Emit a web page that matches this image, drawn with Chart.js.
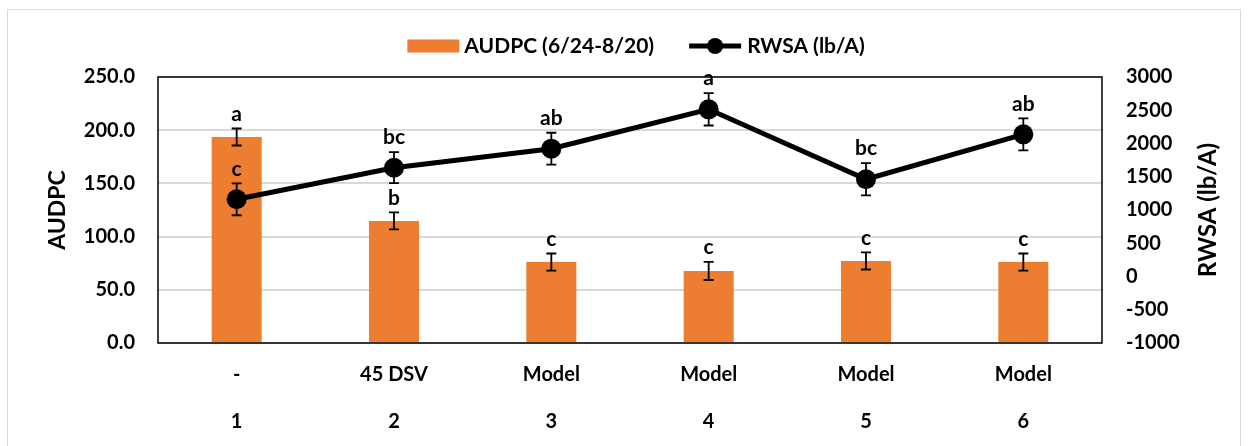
<!DOCTYPE html>
<html>
<head>
<meta charset="utf-8">
<script src="https://cdn.jsdelivr.net/npm/chart.js@4.4.1/dist/chart.umd.min.js"></script>
<style>
    html, body { margin: 0; padding: 0; background: #fff; }
    #wrap { width: 1248px; height: 446px; position: relative; }
</style>
</head>
<body>
<div id="wrap"><canvas id="chart"></canvas></div>
<script>
// treatment names (first label row) and treatment numbers (second row)
const treatments = ['-', '45 DSV', 'Model', 'Model', 'Model', 'Model'];
const trtNumbers = ['1', '2', '3', '4', '5', '6'];

// AUDPC (bars, left axis)
const audpc = [193.6, 114.7, 76.1, 67.7, 77.1, 76.1];
const audpcErr = [8, 8, 8, 8.5, 8, 8];
const audpcLetters = ['a', 'b', 'c', 'c', 'c', 'c'];

// RWSA (line, right axis)
const rwsa = [1161, 1636, 1922, 2514, 1462, 2138];
const rwsaErr = [240, 233, 240, 243, 243, 240];
const rwsaLetters = ['c', 'bc', 'ab', 'a', 'bc', 'ab'];

const FONT = 'Lato, "Open Sans", sans-serif';
const ORANGE = '#ED7D31';

const frameAndExtras = {
    id: 'frameAndExtras',
    beforeDraw(chart) {
        const ctx = chart.ctx;
        ctx.save();
        ctx.fillStyle = '#fff';
        ctx.fillRect(0, 0, chart.width, chart.height);
        ctx.strokeStyle = '#d9d9d9';
        ctx.lineWidth = 1;
        ctx.strokeRect(7.5, 9.5, chart.width - 15, chart.height);
        ctx.restore();
    },
    afterDatasetsDraw(chart) {
        const ctx = chart.ctx;
        const area = chart.chartArea;
        const x = chart.scales.x;
        const yL = chart.scales.y;
        const yR = chart.scales.y1;
        ctx.save();

        // plot-area border
        ctx.strokeStyle = '#000';
        ctx.lineWidth = 1.5;
        ctx.strokeRect(area.left, area.top, area.right - area.left, area.bottom - area.top);

        // error bars
        function errBar(cx, yTop, yBot) {
            ctx.beginPath();
            ctx.moveTo(cx, yTop); ctx.lineTo(cx, yBot);
            ctx.moveTo(cx - 5, yTop); ctx.lineTo(cx + 5, yTop);
            ctx.moveTo(cx - 5, yBot); ctx.lineTo(cx + 5, yBot);
            ctx.stroke();
        }
        ctx.strokeStyle = '#000';
        ctx.lineWidth = 1.8;
        ctx.font = 'bold 21px ' + FONT;
        ctx.fillStyle = '#000';
        ctx.textAlign = 'center';
        ctx.textBaseline = 'bottom';
        audpc.forEach((v, i) => {
            const cx = x.getPixelForValue(i);
            const t = yL.getPixelForValue(v + audpcErr[i]);
            errBar(cx, t, yL.getPixelForValue(v - audpcErr[i]));
            ctx.fillText(audpcLetters[i], cx, t - 4);
        });
        rwsa.forEach((v, i) => {
            const cx = x.getPixelForValue(i);
            const t = yR.getPixelForValue(v + rwsaErr[i]);
            errBar(cx, t, yR.getPixelForValue(v - rwsaErr[i]));
            ctx.fillText(rwsaLetters[i], cx, t - 4);
        });

        // right axis title, reading bottom to top
        ctx.font = 'bold 24px ' + FONT;
        ctx.textBaseline = 'middle';
        ctx.translate(yR.right - 40, (area.top + area.bottom) / 2);
        ctx.rotate(-Math.PI / 2);
        ctx.fillText(chart.data.datasets[1].label, 0, 0);
        ctx.restore();

        // legend
        ctx.save();
        ctx.font = 'bold 21px ' + FONT;
        ctx.textBaseline = 'middle';
        ctx.textAlign = 'left';
        const lab1 = chart.data.datasets[0].label;
        const lab2 = chart.data.datasets[1].label;
        const w1 = ctx.measureText(lab1).width;
        const w2 = ctx.measureText(lab2).width;
        const total = 52 + 5 + w1 + 35 + 52 + 6 + w2;
        let lx = (area.left + area.right) / 2 + 6 - total / 2;
        const ly = 46;
        ctx.fillStyle = ORANGE;
        ctx.fillRect(lx, ly - 6.5, 52, 13);
        lx += 57;
        ctx.fillStyle = '#000';
        ctx.fillText(lab1, lx, ly);
        lx += w1 + 35;
        ctx.strokeStyle = '#000';
        ctx.lineWidth = 5;
        ctx.beginPath();
        ctx.moveTo(lx, ly); ctx.lineTo(lx + 52, ly);
        ctx.stroke();
        ctx.beginPath();
        ctx.arc(lx + 26, ly, 8, 0, Math.PI * 2);
        ctx.fill();
        lx += 58;
        ctx.fillText(lab2, lx, ly);
        ctx.restore();
    }
};

new Chart(document.getElementById('chart'), {
    data: {
        labels: treatments.map((t, i) => [t, trtNumbers[i]]),
        datasets: [
            {
                type: 'line',
                label: 'AUDPC (6/24-8/20)',
                data: [],
                hidden: true
            },
            {
                type: 'line',
                label: 'RWSA (lb/A)',
                data: rwsa,
                yAxisID: 'y1',
                borderColor: '#000',
                backgroundColor: '#000',
                borderWidth: 5,
                pointRadius: 10,
                pointHoverRadius: 10,
                pointBackgroundColor: '#000',
                pointBorderWidth: 0,
                tension: 0,
                order: 0
            },
            {
                type: 'bar',
                label: 'AUDPC',
                data: audpc,
                yAxisID: 'y',
                backgroundColor: ORANGE,
                categoryPercentage: 1,
                barPercentage: 0.318,
                order: 1
            }
        ]
    },
    options: {
        responsive: true,
        maintainAspectRatio: false,
        animation: false,
        layout: { padding: { left: 40, right: 0, top: 77, bottom: 0 } },
        plugins: {
            legend: { display: false },
            tooltip: { enabled: false }
        },
        scales: {
            x: {
                grid: { display: false, drawTicks: false },
                border: { display: false },
                ticks: {
                    color: '#000',
                    padding: 8,
                    maxRotation: 0,
                    font: { family: FONT, size: 20, weight: 'bold', lineHeight: '47px' }
                },
                afterFit(scale) { scale.height = 103; }
            },
            y: {
                position: 'left',
                min: 0,
                max: 250,
                grid: { color: '#d9d9d9', lineWidth: 2, drawTicks: false },
                border: { display: false },
                ticks: {
                    stepSize: 50,
                    color: '#000',
                    padding: 23,
                    font: { family: FONT, size: 20, weight: 'bold' },
                    callback: v => v.toFixed(1)
                },
                title: {
                    display: true,
                    text: 'AUDPC',
                    color: '#000',
                    padding: { top: 4, bottom: 0 },
                    font: { family: FONT, size: 23, weight: 'bold', lineHeight: 1.2 }
                },
                afterFit(scale) { scale.width = 118; }
            },
            y1: {
                position: 'right',
                min: -1000,
                max: 3000,
                grid: { display: false, drawTicks: false },
                border: { display: false },
                ticks: {
                    stepSize: 500,
                    color: '#000',
                    padding: 24,
                    font: { family: FONT, size: 20, weight: 'bold' },
                    callback: v => String(v)
                },
                afterFit(scale) { scale.width = 146; }
            }
        }
    },
    plugins: [frameAndExtras]
});
</script>
</body>
</html>
